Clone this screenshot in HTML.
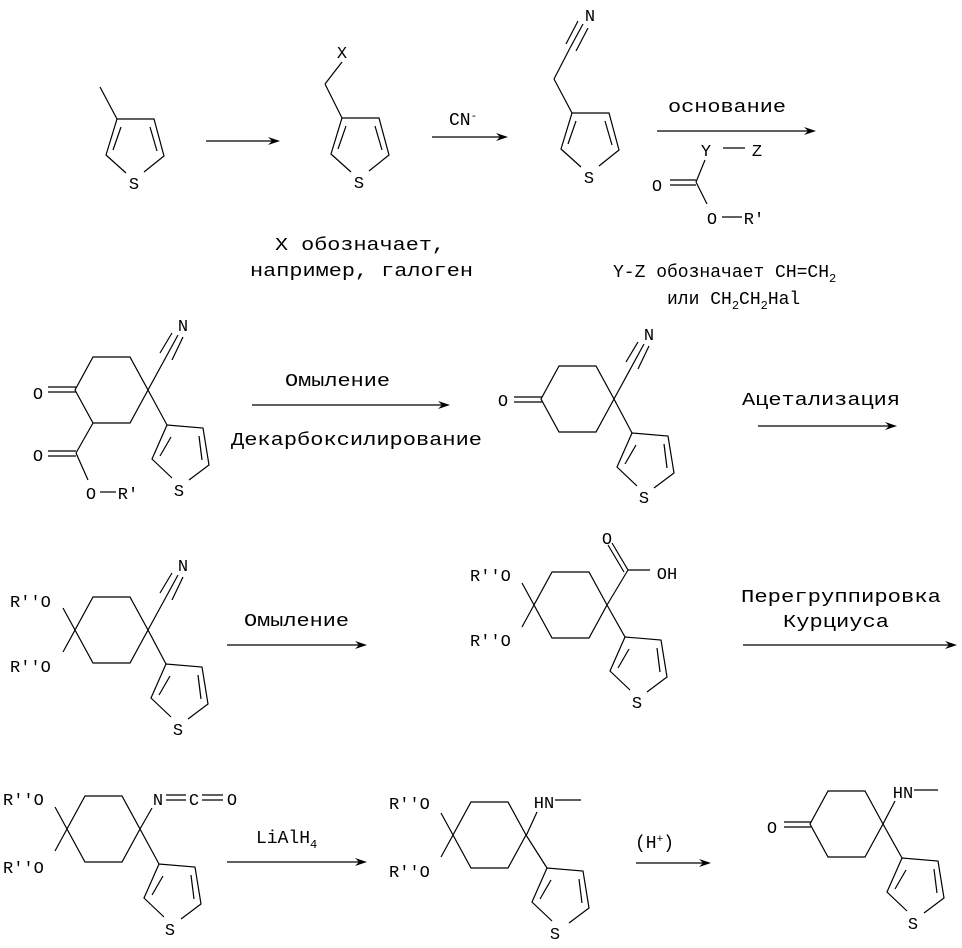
<!DOCTYPE html>
<html><head><meta charset="utf-8"><style>
html,body{margin:0;padding:0;background:#fff}
svg{display:block}
text{font-family:"Liberation Mono","DejaVu Sans Mono",monospace;fill:#000}
.a{font-size:17px}
.t{font-size:18px}
</style></head><body>
<svg width="962" height="948" viewBox="0 0 962 948" xmlns="http://www.w3.org/2000/svg">
<defs>
<g id="th" fill="none" stroke="#000" stroke-width="1.2">
<polyline points="9,54 -11,36 0,0 37,0 47,37 27,53"/>
<line x1="4" y1="8" x2="-4" y2="31"/><line x1="33" y1="8" x2="40" y2="32"/>
</g>
<g id="tt" fill="none" stroke="#000" stroke-width="1.2">
<polyline points="5,53 -15,34 0,0 36,3 42,40 22,55"/>
<line x1="4" y1="12" x2="-7" y2="31"/><line x1="32" y1="11" x2="35" y2="35"/>
</g>
<g id="ring" fill="none" stroke="#000" stroke-width="1.2">
<polygon points="-55,-33 -18,-33 0,0 -18,33 -55,33 -73,0"/>
</g>
<g id="cn" fill="none" stroke="#000" stroke-width="1.2">
<line x1="0" y1="0" x2="30" y2="-55"/><line x1="12" y1="-37" x2="24" y2="-57"/><line x1="24" y1="-30" x2="35" y2="-53"/>
</g>
<g id="ket" fill="none" stroke="#000" stroke-width="1.2">
<line x1="-12" y1="-22" x2="0" y2="0"/><line x1="-12" y1="22" x2="0" y2="0"/>
</g>
<polygon id="ah" points="0,0 -12,-4 -8,0 -12,4" fill="#000"/>
</defs>
<g stroke="#000" stroke-width="1.2" fill="none">
<line x1="100" y1="87" x2="117" y2="119"/>
<line x1="342" y1="62" x2="325" y2="84"/><line x1="325" y1="84" x2="342" y2="118"/>
<line x1="554" y1="79" x2="572" y2="113"/><line x1="554" y1="79" x2="570" y2="48"/>
<line x1="566" y1="44" x2="578" y2="21"/><line x1="570" y1="48" x2="583" y2="24"/><line x1="576" y1="51" x2="588" y2="28"/>
<line x1="206" y1="141" x2="272" y2="141"/>
<line x1="432" y1="137" x2="500" y2="137"/>
<line x1="657" y1="131" x2="808" y2="131"/>
<line x1="723" y1="148" x2="745" y2="148"/>
<line x1="705" y1="160" x2="696" y2="182"/>
<line x1="670" y1="180" x2="696" y2="180"/><line x1="670" y1="185" x2="696" y2="185"/>
<line x1="696" y1="182" x2="707" y2="204"/>
<line x1="722" y1="217" x2="742" y2="217"/>
<line x1="48" y1="387" x2="76" y2="387"/><line x1="48" y1="392" x2="76" y2="392"/>
<line x1="93" y1="423" x2="76" y2="453"/>
<line x1="48" y1="451" x2="76" y2="451"/><line x1="48" y1="456" x2="76" y2="456"/>
<line x1="76" y1="453" x2="88" y2="480"/>
<line x1="100" y1="492" x2="116" y2="492"/>
<line x1="252" y1="405" x2="442" y2="405"/>
<line x1="514" y1="397" x2="542" y2="397"/><line x1="514" y1="402" x2="542" y2="402"/>
<line x1="758" y1="426" x2="889" y2="426"/>
<line x1="227" y1="645" x2="359" y2="645"/>
<line x1="607" y1="605" x2="628" y2="570"/>
<line x1="628" y1="570" x2="612" y2="543"/><line x1="624" y1="572" x2="608" y2="545"/>
<line x1="628" y1="570" x2="650" y2="570"/>
<line x1="743" y1="645" x2="949" y2="645"/>
<line x1="140" y1="829" x2="152" y2="808"/>
<line x1="166" y1="795" x2="186" y2="795"/><line x1="166" y1="800" x2="186" y2="800"/>
<line x1="202" y1="795" x2="223" y2="795"/><line x1="202" y1="800" x2="223" y2="800"/>
<line x1="227" y1="862" x2="359" y2="862"/>
<line x1="526" y1="836" x2="537" y2="812"/><line x1="555" y1="800" x2="581" y2="800"/>
<line x1="636" y1="863" x2="703" y2="863"/>
<line x1="784" y1="822" x2="811" y2="822"/><line x1="784" y1="827" x2="811" y2="827"/>
<line x1="883" y1="824" x2="895" y2="801"/><line x1="914" y1="790" x2="938" y2="790"/>
</g>
<use href="#ah" x="280" y="141"/><use href="#ah" x="508" y="137"/><use href="#ah" x="816" y="131"/>
<use href="#ah" x="450" y="405"/><use href="#ah" x="897" y="426"/>
<use href="#ah" x="367" y="645"/><use href="#ah" x="957" y="645"/>
<use href="#ah" x="367" y="862"/><use href="#ah" x="711" y="863"/>
<use href="#th" x="117" y="119"/><use href="#th" x="342" y="118"/><use href="#th" x="572" y="113"/>
<use href="#tt" x="167" y="425"/><use href="#tt" x="632" y="433"/><use href="#tt" x="166" y="664"/>
<use href="#tt" x="625" y="637"/><use href="#tt" x="159" y="864"/><use href="#tt" x="547" y="868"/><use href="#tt" x="902" y="858"/>
<use href="#ring" x="148" y="390"/><use href="#ring" x="614" y="399"/><use href="#ring" x="148" y="630"/>
<use href="#ring" x="607" y="605"/><use href="#ring" x="140" y="829"/><use href="#ring" x="526" y="835"/><use href="#ring" x="883" y="824"/>
<g stroke="#000" stroke-width="1.2">
<line x1="148" y1="390" x2="167" y2="425"/><line x1="614" y1="399" x2="632" y2="433"/><line x1="148" y1="630" x2="166" y2="664"/>
<line x1="607" y1="605" x2="625" y2="637"/><line x1="140" y1="829" x2="159" y2="864"/><line x1="526" y1="835" x2="547" y2="868"/><line x1="883" y1="824" x2="902" y2="858"/>
</g>
<use href="#cn" x="148" y="390"/><use href="#cn" x="614" y="399"/><use href="#cn" x="148" y="630"/>
<use href="#ket" x="75" y="630"/><use href="#ket" x="534" y="605"/><use href="#ket" x="67" y="829"/><use href="#ket" x="453" y="835"/>
<g class="a" text-anchor="middle">
<text x="134" y="189">S</text><text x="359" y="188">S</text><text x="589" y="183">S</text>
<text x="342" y="58">X</text><text x="590" y="21">N</text>
<text x="706" y="156">Y</text><text x="757" y="156">Z</text>
<text x="657" y="191">O</text><text x="712" y="224">O</text><text x="754" y="224">R'</text>
<text x="183" y="331">N</text><text x="38" y="399">O</text><text x="38" y="461">O</text>
<text x="91" y="499">O</text><text x="128" y="499">R'</text><text x="179" y="496">S</text>
<text x="503" y="406">O</text><text x="649" y="340">N</text><text x="644" y="503">S</text>
<text x="183" y="571">N</text><text x="178" y="735">S</text>
<text x="607" y="544">O</text><text x="667" y="579">OH</text><text x="637" y="708">S</text>
<text x="158" y="805">N</text><text x="194" y="805">C</text><text x="232" y="805">O</text><text x="170" y="935">S</text>
<text x="544" y="808">HN</text><text x="555" y="939">S</text>
<text x="772" y="833">O</text><text x="903" y="798">HN</text><text x="913" y="929">S</text>
</g>
<g class="a">
<text x="10" y="607">R''O</text><text x="10" y="672">R''O</text>
<text x="470" y="581">R''O</text><text x="470" y="646">R''O</text>
<text x="3" y="805">R''O</text><text x="3" y="873">R''O</text>
<text x="389" y="809">R''O</text><text x="389" y="877">R''O</text>
</g>
<g class="t">
<text x="449" y="125">CN<tspan font-size="11" dy="-6">-</tspan></text>
<text x="275" y="250" textLength="170" lengthAdjust="spacingAndGlyphs">X обозначает,</text>
<text x="250" y="276" textLength="223" lengthAdjust="spacingAndGlyphs">например, галоген</text>
<text x="668" y="112" textLength="118" lengthAdjust="spacingAndGlyphs">основание</text>
<text x="613" y="277">Y-Z обозначает CH=CH<tspan font-size="12" dy="5">2</tspan></text>
<text x="667" y="304">или CH<tspan font-size="12" dy="5">2</tspan><tspan dy="-5">CH</tspan><tspan font-size="12" dy="5">2</tspan><tspan dy="-5">Hal</tspan></text>
<text x="285" y="386" textLength="105" lengthAdjust="spacingAndGlyphs">Омыление</text>
<text x="231" y="445" textLength="251" lengthAdjust="spacingAndGlyphs">Декарбоксилирование</text>
<text x="742" y="405" textLength="158" lengthAdjust="spacingAndGlyphs">Ацетализация</text>
<text x="244" y="626" textLength="105" lengthAdjust="spacingAndGlyphs">Омыление</text>
<text x="741" y="602" textLength="200" lengthAdjust="spacingAndGlyphs">Перегруппировка</text>
<text x="783" y="627" textLength="106" lengthAdjust="spacingAndGlyphs">Курциуса</text>
<text x="256" y="843">LiAlH<tspan font-size="12" dy="5">4</tspan></text>
<text x="635" y="848">(H<tspan font-size="11" dy="-6">+</tspan><tspan dy="6">)</tspan></text>
</g>
</svg>
</body></html>
